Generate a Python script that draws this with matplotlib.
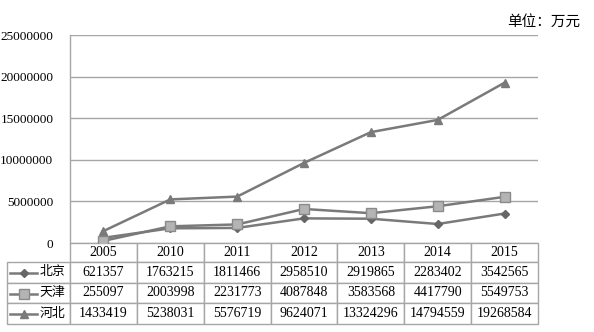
import matplotlib
matplotlib.use('Agg')
import matplotlib.pyplot as plt
from matplotlib.lines import Line2D

plt.rcParams['font.family'] = ['Liberation Serif', 'Noto Sans CJK SC']

years = ['2005', '2010', '2011', '2012', '2013', '2014', '2015']
regions = ['北京', '天津', '河北']
beijing = [621357, 1763215, 1811466, 2958510, 2919865, 2283402, 3542565]
tianjin = [255097, 2003998, 2231773, 4087848, 3583568, 4417790, 5549753]
hebei = [1433419, 5238031, 5576719, 9624071, 13324296, 14794559, 19268584]
series = [beijing, tianjin, hebei]

line_col = '#7a7a7a'
grid_col = '#a6a6a6'
markers = [
    dict(marker='D', markersize=4, markerfacecolor='#666666', markeredgecolor='#666666'),
    dict(marker='s', markersize=7, markerfacecolor='#b4b4b4', markeredgecolor='#8a8a8a', markeredgewidth=1),
    dict(marker='^', markersize=6, markerfacecolor='#7a7a7a', markeredgecolor='#7a7a7a'),
]

W, H = 594, 332
fig = plt.figure(figsize=(W / 100, H / 100), dpi=100)
ax_l, ax_r, ax_t, ax_b = 70, 538, 35, 243
ax = fig.add_axes([ax_l / W, 1 - ax_b / H, (ax_r - ax_l) / W, (ax_b - ax_t) / H])

x = range(len(years))
for vals, mk in zip(series, markers):
    ax.plot(x, vals, color=line_col, linewidth=1.8, zorder=3, **mk)

ax.set_xlim(-0.5, len(years) - 0.5)
ax.set_ylim(0, 25000000)
ax.set_yticks(range(0, 25000001, 5000000))
ax.set_yticklabels([str(v) for v in range(0, 25000001, 5000000)], fontsize=9.5)
ax.tick_params(axis='y', length=0, pad=12)
ax.set_xticks([])
ax.grid(axis='y', color=grid_col, linewidth=1)
ax.set_axisbelow(True)
for s in ['top', 'right', 'bottom']:
    ax.spines[s].set_visible(False)
ax.spines['left'].set_color(grid_col)
ax.spines['left'].set_linewidth(1)

# data table under the plot
cell_text = [[r] + [str(v) for v in vals] for r, vals in zip(regions, series)]
col_labels = [''] + years
tab_l, tab_t, tab_b = 7, 243, 324
col_w = [(ax_l - tab_l)] + [(ax_r - ax_l) / len(years)] * len(years)
bbox_x0 = (tab_l - ax_l) / (ax_r - ax_l)
bbox_w = (ax_r - tab_l) / (ax_r - ax_l)
bbox_y0 = -(tab_b - ax_b) / (ax_b - ax_t)
bbox_h = (tab_b - tab_t) / (ax_b - ax_t)
tbl = ax.table(cellText=cell_text, colLabels=col_labels, colWidths=col_w,
               cellLoc='center', bbox=[bbox_x0, bbox_y0, bbox_w, bbox_h])
tbl.auto_set_font_size(False)
for (r, c), cell in tbl.get_celld().items():
    cell.set_edgecolor(grid_col)
    cell.set_linewidth(1)
    cell.get_text().set_fontsize(10)
    cell.set_height(19 if r == 0 else 21)
    if r == 0 and c == 0:
        cell.set_edgecolor('none')
    if c == 0 and r > 0:
        cell.get_text().set_fontsize(9.3)
        cell.get_text().set_ha('right')
        cell.PAD = 0.07

# legend keys in the label column
row_tops = [262, 283, 303]
for i, mk in enumerate(markers):
    yc = 1 - (row_tops[i] + 10.5) / H
    fig.add_artist(Line2D([10 / W, 37 / W], [yc, yc], transform=fig.transFigure,
                          color=line_col, linewidth=1.8))
    fig.add_artist(Line2D([23.5 / W], [yc], transform=fig.transFigure,
                          color=line_col, linestyle='none', **mk))

fig.text(580 / W, 1 - 22 / H, '单位：万元', ha='right', va='center', fontsize=10.5,
         family=['Noto Sans CJK SC', 'DejaVu Sans'])

fig.savefig('out.png', dpi=100, facecolor='white')
